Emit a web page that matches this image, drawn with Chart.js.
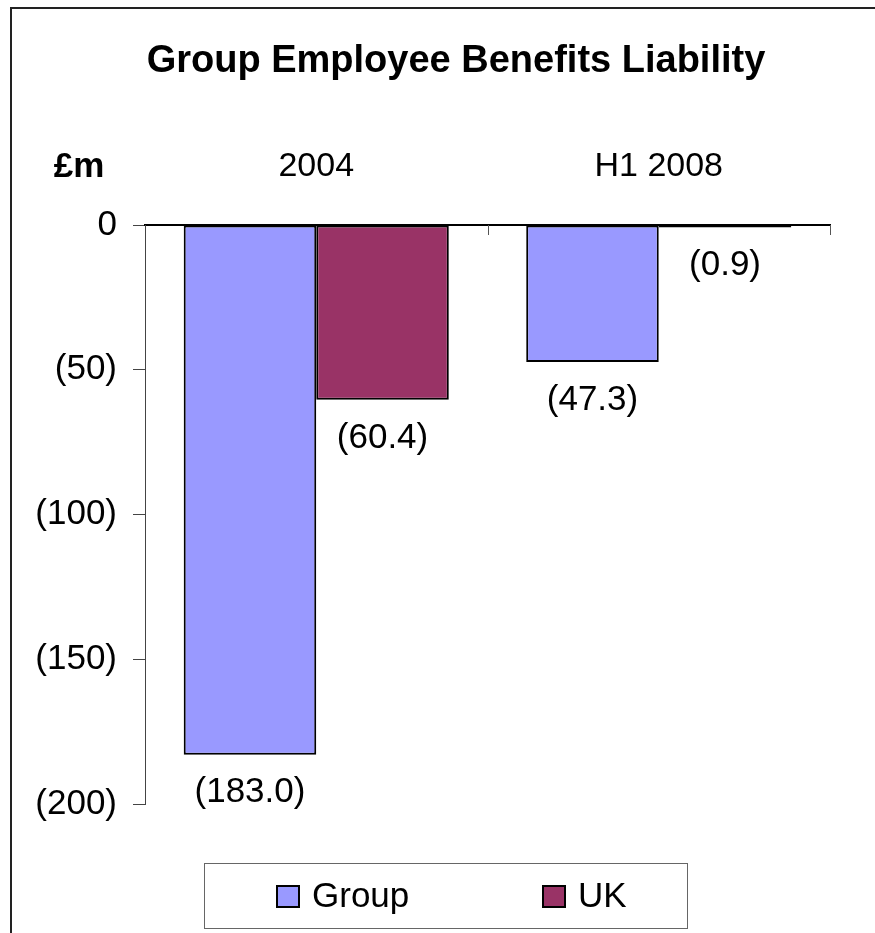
<!DOCTYPE html>
<html>
<head>
<meta charset="utf-8">
<script src="https://cdn.jsdelivr.net/npm/chart.js@4"></script>
<style>
  html, body { margin: 0; padding: 0; background: #fff; }
  canvas { display: block; }
</style>
</head>
<body>
<canvas id="myChart" width="875" height="933"></canvas>
<script>
// chart data
const categories = ['2004', 'H1 2008'];
const groupValues = [-183.0, -47.3];
const ukValues = [-60.4, -0.9];
const seriesNames = ['Group', 'UK'];
const yTicks = [0, -50, -100, -150, -200];
const chartTitle = 'Group Employee Benefits Liability';

const FONT = '"Liberation Sans", Arial, sans-serif';

function fmt(v, digits) {
  if (v === 0) return '0';
  let s = Math.abs(v).toFixed(digits);
  return v < 0 ? `(${s})` : s;
}

// title, labels, frame, legend and small extras
const extrasPlugin = {
  id: 'extras',
  afterDraw(chart) {
    const c = chart.ctx;
    const x = chart.scales.x;
    const area = chart.chartArea;
    c.save();

    // outer frame (left + top visible)
    c.strokeStyle = '#222';
    c.lineWidth = 2;
    c.beginPath();
    c.moveTo(11, 940);
    c.lineTo(11, 8);
    c.lineTo(880, 8);
    c.stroke();

    // title
    c.fillStyle = '#000';
    c.font = `bold 38px ${FONT}`;
    c.textAlign = 'center';
    c.textBaseline = 'middle';
    c.fillText(chartTitle, 456, 62);

    // unit label
    c.font = `bold 35px ${FONT}`;
    c.fillText('£m', 79, 167);

    // small ticks on the zero line between categories
    c.strokeStyle = '#555';
    c.lineWidth = 1;
    const n = categories.length;
    for (let i = 1; i <= n; i++) {
      let px = Math.round(x.left + (x.right - x.left) * i / n) + 0.5;
      c.beginPath();
      c.moveTo(px, area.top);
      c.lineTo(px, area.top + 10);
      c.stroke();
    }

    // value labels under each bar
    c.fillStyle = '#000';
    c.font = `35px ${FONT}`;
    c.textAlign = 'center';
    c.textBaseline = 'middle';
    chart.data.datasets.forEach((ds, di) => {
      chart.getDatasetMeta(di).data.forEach((bar, i) => {
        c.fillText(fmt(ds.data[i], 1), bar.x, bar.y + 38);
      });
    });

    // legend with frame
    c.strokeStyle = '#666';
    c.lineWidth = 1;
    c.strokeRect(204.5, 863.5, 483, 65);
    const markerX = [277, 543];
    c.textAlign = 'left';
    chart.data.datasets.forEach((ds, di) => {
      c.fillStyle = ds.backgroundColor;
      c.fillRect(markerX[di], 886, 22, 21);
      c.strokeStyle = '#000';
      c.lineWidth = 2;
      c.strokeRect(markerX[di], 886, 22, 21);
      c.fillStyle = '#000';
      c.fillText(ds.label, markerX[di] + 35, 897);
    });

    c.restore();
  }
};

const ctx = document.getElementById('myChart').getContext('2d');
const chart = new Chart(ctx, {
  type: 'bar',
  data: {
    labels: categories,
    datasets: [{
      label: seriesNames[0],
      data: groupValues,
      backgroundColor: '#9999FF',
      borderColor: '#000',
      borderWidth: 2,
      borderSkipped: false,
      categoryPercentage: 0.774,
      barPercentage: 1.0,
    }, {
      label: seriesNames[1],
      data: ukValues,
      backgroundColor: '#993366',
      borderColor: '#000',
      borderWidth: 2,
      borderSkipped: false,
      categoryPercentage: 0.774,
      barPercentage: 1.0,
    }]
  },
  options: {
    responsive: false,
    animation: false,
    devicePixelRatio: 1,
    layout: {
      padding: { left: 15, right: 45, top: 0, bottom: 129 }
    },
    plugins: {
      legend: { display: false },
      tooltip: { enabled: false },
      title: { display: false }
    },
    scales: {
      x: {
        position: 'top',
        offset: true,
        grid: { display: true, drawOnChartArea: false, drawTicks: false },
        border: { display: true, color: '#000', width: 2 },
        ticks: {
          color: '#000',
          padding: 38,
          font: { family: FONT, size: 34 }
        },
        afterFit(scale) {
          scale.height = 225;
        }
      },
      y: {
        min: -200,
        max: 0,
        afterBuildTicks(scale) {
          scale.ticks = yTicks.map(v => ({ value: v }));
        },
        grid: { drawOnChartArea: false, drawTicks: true, tickLength: 12, color: '#444' },
        border: { display: true, color: '#444', width: 1 },
        ticks: {
          color: '#000',
          padding: 16,
          font: { family: FONT, size: 35 },
          callback: (v) => fmt(v, 0)
        },
        afterFit(scale) {
          scale.width = 145 - 15;
        }
      }
    }
  },
  plugins: [extrasPlugin]
});
</script>
</body>
</html>
